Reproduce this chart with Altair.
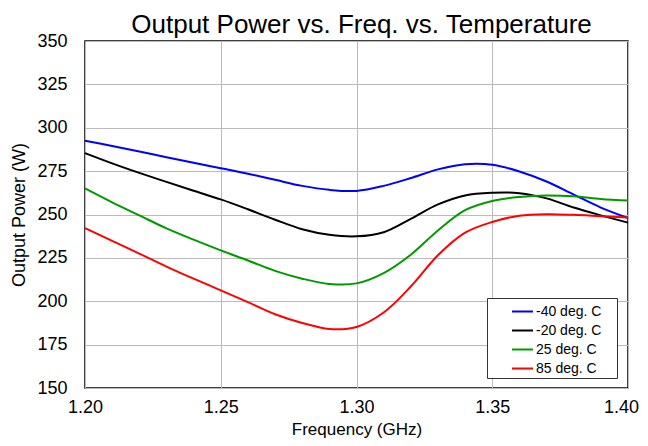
import altair as alt
import pandas as pd

# Frequency points (GHz)
freq = [1.20, 1.21, 1.22, 1.23, 1.24, 1.25, 1.26, 1.27, 1.28, 1.29, 1.30,
        1.31, 1.32, 1.33, 1.34, 1.35, 1.36, 1.37, 1.38, 1.39, 1.40]

series_names = ["-40 deg. C", "-20 deg. C", "25 deg. C", "85 deg. C"]

p_m40 = [292.5, 289.5, 286.3, 283.0, 279.8, 276.7, 273.5, 270.0, 266.5, 264.2, 263.6,
         266.5, 271.0, 276.0, 279.0, 278.7, 274.8, 269.0, 261.5, 254.0, 248.0]
p_m20 = [285.4, 279.5, 274.0, 268.8, 263.7, 258.7, 253.0, 247.0, 241.5, 238.3, 237.4,
         239.8, 247.5, 255.8, 261.0, 262.5, 262.3, 259.3, 254.0, 249.5, 245.3]
p_25 = [265.0, 257.0, 249.5, 242.0, 235.5, 229.3, 223.5, 217.5, 213.0, 210.0, 210.3,
        216.2, 226.8, 240.8, 252.5, 257.8, 260.1, 261.0, 260.5, 259.0, 258.0]
p_85 = [242.2, 234.8, 227.5, 220.0, 213.0, 206.3, 199.5, 192.5, 187.5, 184.0, 185.2,
        193.5, 208.5, 226.5, 239.5, 245.7, 249.3, 250.2, 249.8, 249.0, 248.2]

colors = ["#0000FF", "#000000", "#009900", "#FF0000"]
x_ticks = [1.20, 1.25, 1.30, 1.35, 1.40]
y_ticks = [150, 175, 200, 225, 250, 275, 300, 325, 350]

rows = []
for name, vals in zip(series_names, [p_m40, p_m20, p_25, p_85]):
    for f, v in zip(freq, vals):
        rows.append({"freq": f, "power": v, "temp": name})
df = pd.DataFrame(rows)

FONT = "Liberation Sans"

chart = alt.Chart(df).mark_line(strokeWidth=2, interpolate="catmull-rom").encode(
    x=alt.X("freq:Q",
            scale=alt.Scale(domain=[1.2, 1.4], nice=False, zero=False),
            axis=alt.Axis(title="Frequency (GHz)", values=x_ticks, format=".2f",
                          labelFontSize=18, titleFontSize=17, titleFontWeight="normal",
                          labelFont=FONT, titleFont=FONT, labelColor="#000", titleColor="#000",
                          ticks=False, domain=False, labelPadding=10,
                          titleY=46.5, titleBaseline="alphabetic",
                          labelFlush=False, labelOverlap=False,
                          labelOffset=alt.condition("datum.value >= 1.399", alt.value(-7), alt.value(0)),
                          gridColor="#bbbbbb", gridWidth=1)),
    y=alt.Y("power:Q",
            scale=alt.Scale(domain=[150, 350], nice=False, zero=False),
            axis=alt.Axis(title="Output Power (W)", values=y_ticks,
                          labelFontSize=18, titleFontSize=18, titleFontWeight="normal",
                          labelFont=FONT, titleFont=FONT, labelColor="#000", titleColor="#000",
                          ticks=False, domain=False, labelPadding=18, titlePadding=8,
                          labelFlush=False, labelOverlap=False,
                          gridColor="#bbbbbb", gridWidth=1)),
    color=alt.Color("temp:N",
                    scale=alt.Scale(domain=series_names, range=colors),
                    legend=alt.Legend(title=" ", titleOrient="right", titlePadding=14,
                                      orient="none", legendX=402, legendY=257,
                                      symbolType="stroke", symbolSize=441, symbolStrokeWidth=2,
                                      symbolOffset=22, labelFontSize=14, labelFont=FONT,
                                      labelColor="#000", labelOffset=2, rowPadding=0,
                                      padding=2, strokeColor="#333333", fillColor="white")),
).properties(
    width=543,
    height=347,
    title=alt.Title("Output Power vs. Freq. vs. Temperature", fontSize=26,
                    fontWeight="normal", font=FONT, color="#000", anchor="middle",
                    offset=-6, dx=5),
    autosize=alt.AutoSizeParams(type="none"),
    padding={"left": 77, "top": 33, "right": 12, "bottom": 50},
).configure_view(stroke="black", strokeWidth=1.5)

chart.save("out.html", embed_options={"renderer": "svg", "actions": False})
